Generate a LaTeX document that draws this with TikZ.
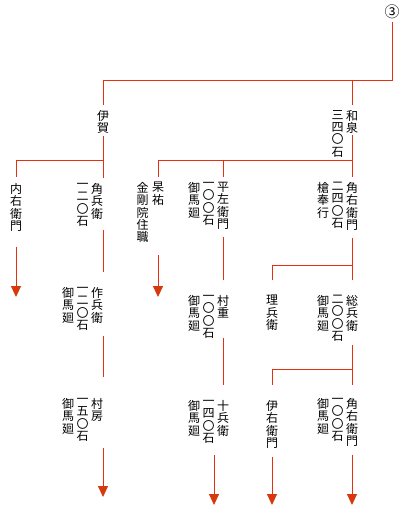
\documentclass[tikz,border=0pt]{standalone}
\usepackage{fontspec}
\newfontfamily\jpfont{Noto Sans CJK JP}
\usepackage{xcolor}
\usepackage{tikz}
\usetikzlibrary{arrows.meta, positioning}
\definecolor{lineRed}{RGB}{228,48,18}
\definecolor{tipRed}{RGB}{212,58,14}

\begin{document}
\begin{tikzpicture}[
    x=1pt, y=-1pt,
    tate/.style={font=\jpfont\fontsize{12}{12.4}\selectfont, align=center, inner sep=0pt, anchor=north,
      execute at begin node={\rule{0pt}{10pt}}, execute at end node={\rule[-1pt]{0pt}{1pt}}},
    side/.style={tate},
    tree/.style={draw=lineRed, line width=0.9pt},
    fwd/.style={tree, -{Triangle[width=10pt,length=11pt,color=tipRed]}}
  ]
    \useasboundingbox (0,0) rectangle (410,506);
    % levels of the bars and arrow tips
    \coordinate (bar0) at (0,80);
    \coordinate (bar1) at (0,160);
    \coordinate (bar2) at (0,265);
    \coordinate (bar3) at (0,369);
    \coordinate (tip1) at (0,297);
    \coordinate (tip3a) at (0,497);
    \coordinate (tip3) at (0,505);
    \coordinate (juu-end) at (214,505);

    \node[font=\jpfont\fontsize{15}{15}\selectfont, inner sep=0pt] (circ3) at (392,12) {③};

    % generation 1
    \node[tate] (iga) at (103,110) {伊\\賀};
    \node[tate] (izumi) at (352,110) {和\\泉};
    \node[side, below left=0pt and 2pt of izumi.north west] (izumi-r) {三\\四\\〇\\石};

    % generation 2
    \node[tate] (uchiemon) at (16,183) {内\\右\\衛\\門};
    \node[tate] (kakubee) at (97,183) {角\\兵\\衛};
    \node[side, below left=0pt and 2pt of kakubee.north west] (kakubee-r) {一\\二\\〇\\石};
    \node[tate] (kouyuu) at (158,182) {杲\\祐};
    \node[side, below left=0pt and 3pt of kouyuu.north west] (kouyuu-r) {金\\剛\\院\\住\\職};
    \node[tate] (heizaemon) at (223,182) {平\\左\\衛\\門};
    \node[side, below left=0pt and 2pt of heizaemon.north west] (heizaemon-r) {一\\〇\\〇\\石};
    \node[side, below left=0pt and 2pt of heizaemon-r.north west] (heizaemon-y) {御\\馬\\廻};
    \node[tate] (kakuemon) at (352,182) {角\\右\\衛\\門};
    \node[side, below left=0pt and 2pt of kakuemon.north west] (kakuemon-r) {二\\四\\〇\\石};
    \node[side, below left=0pt and 2pt of kakuemon-r.north west] (kakuemon-y) {槍\\奉\\行};

    % generation 3
    \node[tate] (sakubee) at (97,287) {作\\兵\\衛};
    \node[side, below left=0pt and 2pt of sakubee.north west] (sakubee-r) {一\\二\\〇\\石};
    \node[side, below left=0pt and 2pt of sakubee-r.north west] (sakubee-y) {御\\馬\\廻};
    \node[tate] (murashige) at (223,295) {村\\重};
    \node[side, below left=0pt and 2pt of murashige.north west] (murashige-r) {一\\〇\\〇\\石};
    \node[side, below left=0pt and 2pt of murashige-r.north west] (murashige-y) {御\\馬\\廻};
    \node[tate] (rihee) at (272,295) {理\\兵\\衛};
    \node[tate] (soubee) at (352,295) {総\\兵\\衛};
    \node[side, below left=0pt and 2pt of soubee.north west] (soubee-r) {二\\〇\\〇\\石};
    \node[side, below left=0pt and 2pt of soubee-r.north west] (soubee-y) {御\\馬\\廻};

    % generation 4
    \node[tate] (murafusa) at (97,398) {村\\房};
    \node[side, below left=0pt and 2pt of murafusa.north west] (murafusa-r) {一\\五\\〇\\石};
    \node[side, below left=0pt and 2pt of murafusa-r.north west] (murafusa-y) {御\\馬\\廻};
    \node[tate] (juubee) at (223,400) {十\\兵\\衛};
    \node[side, below left=0pt and 2pt of juubee.north west] (juubee-r) {一\\四\\〇\\石};
    \node[side, below left=0pt and 2pt of juubee-r.north west] (juubee-y) {御\\馬\\廻};
    \node[tate] (iemon) at (272,400) {伊\\右\\衛\\門};
    \node[tate] (kakuemon2) at (352,398) {角\\右\\衛\\門};
    \node[side, below left=0pt and 2pt of kakuemon2.north west] (kakuemon2-r) {一\\〇\\〇\\石};
    \node[side, below left=0pt and 2pt of kakuemon2-r.north west] (kakuemon2-y) {御\\馬\\廻};

    % lines
    \draw[tree, shorten <=3pt, shorten >=5pt] (circ3) -- (circ3 |- bar0) -| (iga);
    \draw[tree, shorten >=5pt] (izumi |- bar0) -- (izumi);
    \draw[tree, shorten <=2pt, shorten >=5pt] (iga) -- (iga |- kakubee.north);
    \draw[tree, shorten >=6pt] (iga |- bar1) -| (uchiemon);
    \draw[tree, shorten <=1pt, shorten >=5pt] (izumi) -- (kakuemon);
    \draw[tree, shorten >=5pt] (izumi |- bar1) -| (kouyuu);
    \draw[tree, shorten >=5pt] (heizaemon |- bar1) -- (heizaemon);
    \draw[fwd, shorten <=15pt] (uchiemon) -- (uchiemon |- tip1);
    \draw[fwd, shorten <=12pt] (kouyuu |- kouyuu-r.south) -- (kouyuu |- tip1);
    \draw[tree, shorten <=11pt, shorten >=15pt] (kakubee.south -| iga) -- (iga |- sakubee.north);
    \draw[tree, shorten <=7pt, shorten >=15pt] (heizaemon) -- (murashige);
    \draw[tree, shorten <=7pt, shorten >=15pt] (kakuemon) -- (soubee);
    \draw[tree, shorten >=15pt] (kakuemon |- bar2) -| (rihee);
    \draw[tree, shorten <=13pt, shorten >=21pt] (sakubee.south -| iga) -- (iga |- murafusa.north);
    \draw[tree, shorten <=19pt, shorten >=15pt] (murashige) -- (juubee);
    \draw[tree, shorten <=14pt, shorten >=13pt] (soubee) -- (kakuemon2);
    \draw[tree, shorten >=15pt] (soubee |- bar3) -| (iemon);
    \draw[fwd, shorten <=26pt] (murafusa.south -| iga) -- (iga |- tip3a);
    \draw[fwd, shorten <=19pt] (juubee.south -| juu-end) -- (juu-end);
    \draw[fwd, shorten <=8pt] (iemon) -- (iemon |- tip3);
    \draw[fwd, shorten <=8pt] (kakuemon2) -- (kakuemon2 |- tip3);
\end{tikzpicture}
\end{document}
